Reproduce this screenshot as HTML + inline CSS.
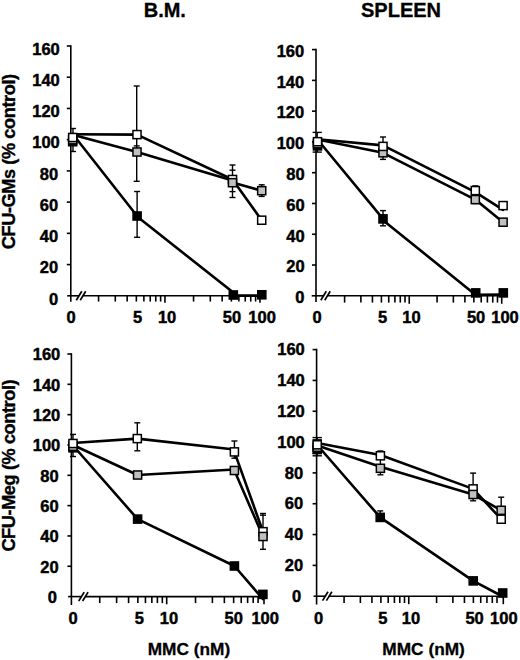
<!DOCTYPE html>
<html><head><meta charset="utf-8"><style>
html,body{margin:0;padding:0;background:#fff;}
body{width:520px;height:660px;overflow:hidden;}
svg{display:block;}
.t{font-family:"Liberation Sans", sans-serif;font-weight:bold;font-size:16.5px;fill:#000;stroke:#000;stroke-width:0.45px;}
.h{font-family:"Liberation Sans", sans-serif;font-weight:bold;font-size:20px;fill:#000;stroke:#000;stroke-width:0.3px;}
.a{font-family:"Liberation Sans", sans-serif;font-weight:bold;font-size:17.3px;fill:#000;stroke:#000;stroke-width:0.3px;}
.v{font-family:"Liberation Sans", sans-serif;font-weight:bold;font-size:18.2px;letter-spacing:-0.42px;fill:#000;stroke:#000;stroke-width:0.35px;}
</style></head><body>
<svg width="520" height="660" viewBox="0 0 520 660">
<rect width="520" height="660" fill="#fff"/>
<text x="164.8" y="16.5" text-anchor="middle" class="h">B.M.</text>
<text x="401" y="16.6" text-anchor="middle" class="h">SPLEEN</text>
<text transform="translate(14.6,161.8) rotate(-90)" text-anchor="middle" class="v">CFU-GMs (% control)</text>
<text transform="translate(14.6,465.7) rotate(-90)" text-anchor="middle" class="v">CFU-Meg (% control)</text>
<text x="189" y="654.6" text-anchor="middle" class="a">MMC (nM)</text>
<text x="423.6" y="654.8" text-anchor="middle" class="a">MMC (nM)</text>
<line x1="70.8" y1="45.2" x2="70.8" y2="301.7" stroke="#000" stroke-width="1.6"/>
<text x="58.3" y="304.5" text-anchor="end" class="t">0</text>
<line x1="66.8" y1="264.57" x2="70.8" y2="264.57" stroke="#000" stroke-width="1.6"/>
<text x="58.2" y="273.27" text-anchor="end" class="t">20</text>
<line x1="66.8" y1="233.35" x2="70.8" y2="233.35" stroke="#000" stroke-width="1.6"/>
<text x="58.2" y="242.05" text-anchor="end" class="t">40</text>
<line x1="66.8" y1="202.12" x2="70.8" y2="202.12" stroke="#000" stroke-width="1.6"/>
<text x="58.2" y="210.82" text-anchor="end" class="t">60</text>
<line x1="66.8" y1="170.9" x2="70.8" y2="170.9" stroke="#000" stroke-width="1.6"/>
<text x="58.2" y="179.6" text-anchor="end" class="t">80</text>
<line x1="66.8" y1="139.68" x2="70.8" y2="139.68" stroke="#000" stroke-width="1.6"/>
<text x="59.8" y="148.38" text-anchor="end" class="t">100</text>
<line x1="66.8" y1="108.45" x2="70.8" y2="108.45" stroke="#000" stroke-width="1.6"/>
<text x="59.8" y="117.15" text-anchor="end" class="t">120</text>
<line x1="66.8" y1="77.22" x2="70.8" y2="77.22" stroke="#000" stroke-width="1.6"/>
<text x="59.8" y="85.92" text-anchor="end" class="t">140</text>
<line x1="66.8" y1="46" x2="70.8" y2="46" stroke="#000" stroke-width="1.6"/>
<text x="59.8" y="54.7" text-anchor="end" class="t">160</text>
<line x1="67.2" y1="295.8" x2="79.02" y2="295.8" stroke="#000" stroke-width="1.6"/>
<line x1="82.92" y1="295.8" x2="260.66" y2="295.8" stroke="#000" stroke-width="1.6"/>
<line x1="98.56" y1="295.8" x2="98.56" y2="301.6" stroke="#000" stroke-width="1.6"/>
<line x1="115.29" y1="295.8" x2="115.29" y2="301.6" stroke="#000" stroke-width="1.6"/>
<line x1="127.16" y1="295.8" x2="127.16" y2="301.6" stroke="#000" stroke-width="1.6"/>
<line x1="136.36" y1="295.8" x2="136.36" y2="301.6" stroke="#000" stroke-width="1.6"/>
<line x1="143.88" y1="295.8" x2="143.88" y2="301.6" stroke="#000" stroke-width="1.6"/>
<line x1="150.24" y1="295.8" x2="150.24" y2="301.6" stroke="#000" stroke-width="1.6"/>
<line x1="155.75" y1="295.8" x2="155.75" y2="301.6" stroke="#000" stroke-width="1.6"/>
<line x1="160.61" y1="295.8" x2="160.61" y2="301.6" stroke="#000" stroke-width="1.6"/>
<line x1="164.96" y1="295.8" x2="164.96" y2="302.8" stroke="#000" stroke-width="1.6"/>
<line x1="193.56" y1="295.8" x2="193.56" y2="301.6" stroke="#000" stroke-width="1.6"/>
<line x1="210.29" y1="295.8" x2="210.29" y2="301.6" stroke="#000" stroke-width="1.6"/>
<line x1="222.16" y1="295.8" x2="222.16" y2="301.6" stroke="#000" stroke-width="1.6"/>
<line x1="231.36" y1="295.8" x2="231.36" y2="301.6" stroke="#000" stroke-width="1.6"/>
<line x1="238.88" y1="295.8" x2="238.88" y2="301.6" stroke="#000" stroke-width="1.6"/>
<line x1="245.24" y1="295.8" x2="245.24" y2="301.6" stroke="#000" stroke-width="1.6"/>
<line x1="250.75" y1="295.8" x2="250.75" y2="301.6" stroke="#000" stroke-width="1.6"/>
<line x1="255.61" y1="295.8" x2="255.61" y2="301.6" stroke="#000" stroke-width="1.6"/>
<line x1="259.96" y1="295.8" x2="259.96" y2="302.8" stroke="#000" stroke-width="1.6"/>
<line x1="76.3" y1="300.2" x2="81.8" y2="291.3" stroke="#000" stroke-width="1.7"/>
<line x1="80.2" y1="300.2" x2="85.7" y2="291.3" stroke="#000" stroke-width="1.7"/>
<text x="71.1" y="323" text-anchor="middle" class="t">0</text>
<text x="137.6" y="323" text-anchor="middle" class="t">5</text>
<text x="167.1" y="323" text-anchor="middle" class="t">10</text>
<text x="232" y="323" text-anchor="middle" class="t">50</text>
<text x="262.1" y="323" text-anchor="middle" class="t">100</text>
<line x1="73" y1="128.5" x2="73" y2="151.5" stroke="#000" stroke-width="1.4"/>
<line x1="70" y1="128.5" x2="76" y2="128.5" stroke="#000" stroke-width="1.4"/>
<line x1="70" y1="151.5" x2="76" y2="151.5" stroke="#000" stroke-width="1.4"/>
<line x1="136.7" y1="86" x2="136.7" y2="181.3" stroke="#000" stroke-width="1.4"/>
<line x1="133.7" y1="86" x2="139.7" y2="86" stroke="#000" stroke-width="1.4"/>
<line x1="133.7" y1="145.9" x2="139.7" y2="145.9" stroke="#000" stroke-width="1.4"/>
<line x1="133.7" y1="181.3" x2="139.7" y2="181.3" stroke="#000" stroke-width="1.4"/>
<line x1="137.1" y1="191.5" x2="137.1" y2="237.3" stroke="#000" stroke-width="1.4"/>
<line x1="134.1" y1="191.5" x2="140.1" y2="191.5" stroke="#000" stroke-width="1.4"/>
<line x1="134.1" y1="237.3" x2="140.1" y2="237.3" stroke="#000" stroke-width="1.4"/>
<line x1="232.5" y1="165" x2="232.5" y2="197.5" stroke="#000" stroke-width="1.4"/>
<line x1="229.5" y1="165" x2="235.5" y2="165" stroke="#000" stroke-width="1.4"/>
<line x1="229.5" y1="170.2" x2="235.5" y2="170.2" stroke="#000" stroke-width="1.4"/>
<line x1="229.5" y1="191.6" x2="235.5" y2="191.6" stroke="#000" stroke-width="1.4"/>
<line x1="229.5" y1="197.5" x2="235.5" y2="197.5" stroke="#000" stroke-width="1.4"/>
<line x1="261.7" y1="184.8" x2="261.7" y2="196.4" stroke="#000" stroke-width="1.4"/>
<line x1="258.7" y1="184.8" x2="264.7" y2="184.8" stroke="#000" stroke-width="1.4"/>
<line x1="258.7" y1="196.4" x2="264.7" y2="196.4" stroke="#000" stroke-width="1.4"/>
<path d="M72.7,134L137.1,216M137.1,216.6L233.3,292.5M233.3,295.6L261.8,295.6" fill="none" stroke="#000" stroke-width="2.6" stroke-linecap="round"/>
<path d="M72.7,134.8L137,152M137,152L232.5,180.5M232.5,182.6L261.7,190.7" fill="none" stroke="#000" stroke-width="2.6" stroke-linecap="round"/>
<path d="M72.7,134.3L137,134.6M137,134.6L232.5,179.5M232.5,179.5L261.7,220.2" fill="none" stroke="#000" stroke-width="2.6" stroke-linecap="round"/>
<rect x="68.65" y="137.65" width="8.1" height="8.1" fill="#000000" stroke="#000" stroke-width="1.5"/>
<rect x="68.65" y="135.75" width="8.1" height="8.1" fill="#c0c0c0" stroke="#000" stroke-width="1.5"/>
<rect x="68.65" y="133.45" width="8.1" height="8.1" fill="#ffffff" stroke="#000" stroke-width="1.5"/>
<rect x="133.05" y="211.95" width="8.1" height="8.1" fill="#000000" stroke="#000" stroke-width="1.5"/>
<rect x="132.95" y="147.95" width="8.1" height="8.1" fill="#c0c0c0" stroke="#000" stroke-width="1.5"/>
<rect x="132.95" y="130.55" width="8.1" height="8.1" fill="#ffffff" stroke="#000" stroke-width="1.5"/>
<rect x="228.45" y="175.45" width="8.1" height="8.1" fill="#ffffff" stroke="#000" stroke-width="1.5"/>
<rect x="228.45" y="178.65" width="8.1" height="8.1" fill="#c0c0c0" stroke="#000" stroke-width="1.5"/>
<rect x="229.25" y="290.95" width="8.1" height="8.1" fill="#000000" stroke="#000" stroke-width="1.5"/>
<rect x="257.65" y="216.15" width="8.1" height="8.1" fill="#ffffff" stroke="#000" stroke-width="1.5"/>
<rect x="257.65" y="186.65" width="8.1" height="8.1" fill="#c0c0c0" stroke="#000" stroke-width="1.5"/>
<rect x="257.75" y="290.75" width="8.1" height="8.1" fill="#000000" stroke="#000" stroke-width="1.5"/>
<line x1="316" y1="48.8" x2="316" y2="302.1" stroke="#000" stroke-width="1.6"/>
<text x="304.5" y="303.1" text-anchor="end" class="t">0</text>
<line x1="312" y1="265.03" x2="316" y2="265.03" stroke="#000" stroke-width="1.6"/>
<text x="304.7" y="272.33" text-anchor="end" class="t">20</text>
<line x1="312" y1="234.25" x2="316" y2="234.25" stroke="#000" stroke-width="1.6"/>
<text x="304.7" y="241.55" text-anchor="end" class="t">40</text>
<line x1="312" y1="203.48" x2="316" y2="203.48" stroke="#000" stroke-width="1.6"/>
<text x="304.7" y="210.78" text-anchor="end" class="t">60</text>
<line x1="312" y1="172.7" x2="316" y2="172.7" stroke="#000" stroke-width="1.6"/>
<text x="304.7" y="180" text-anchor="end" class="t">80</text>
<line x1="312" y1="141.93" x2="316" y2="141.93" stroke="#000" stroke-width="1.6"/>
<text x="304.2" y="149.23" text-anchor="end" class="t">100</text>
<line x1="312" y1="111.15" x2="316" y2="111.15" stroke="#000" stroke-width="1.6"/>
<text x="304.2" y="118.45" text-anchor="end" class="t">120</text>
<line x1="312" y1="80.38" x2="316" y2="80.38" stroke="#000" stroke-width="1.6"/>
<text x="304.2" y="87.67" text-anchor="end" class="t">140</text>
<line x1="312" y1="49.6" x2="316" y2="49.6" stroke="#000" stroke-width="1.6"/>
<text x="304.2" y="56.9" text-anchor="end" class="t">160</text>
<line x1="311.7" y1="295.8" x2="323.52" y2="295.8" stroke="#000" stroke-width="1.6"/>
<line x1="327.42" y1="295.8" x2="502.41" y2="295.8" stroke="#000" stroke-width="1.6"/>
<line x1="344.61" y1="295.8" x2="344.61" y2="302.6" stroke="#000" stroke-width="1.6"/>
<line x1="360.89" y1="295.8" x2="360.89" y2="302.6" stroke="#000" stroke-width="1.6"/>
<line x1="372.44" y1="295.8" x2="372.44" y2="302.6" stroke="#000" stroke-width="1.6"/>
<line x1="381.4" y1="295.8" x2="381.4" y2="302.6" stroke="#000" stroke-width="1.6"/>
<line x1="388.73" y1="295.8" x2="388.73" y2="302.6" stroke="#000" stroke-width="1.6"/>
<line x1="394.92" y1="295.8" x2="394.92" y2="302.6" stroke="#000" stroke-width="1.6"/>
<line x1="400.28" y1="295.8" x2="400.28" y2="302.6" stroke="#000" stroke-width="1.6"/>
<line x1="405.01" y1="295.8" x2="405.01" y2="302.6" stroke="#000" stroke-width="1.6"/>
<line x1="409.24" y1="295.8" x2="409.24" y2="303.8" stroke="#000" stroke-width="1.6"/>
<line x1="437.08" y1="295.8" x2="437.08" y2="302.6" stroke="#000" stroke-width="1.6"/>
<line x1="453.36" y1="295.8" x2="453.36" y2="302.6" stroke="#000" stroke-width="1.6"/>
<line x1="464.91" y1="295.8" x2="464.91" y2="302.6" stroke="#000" stroke-width="1.6"/>
<line x1="473.87" y1="295.8" x2="473.87" y2="302.6" stroke="#000" stroke-width="1.6"/>
<line x1="481.2" y1="295.8" x2="481.2" y2="302.6" stroke="#000" stroke-width="1.6"/>
<line x1="487.39" y1="295.8" x2="487.39" y2="302.6" stroke="#000" stroke-width="1.6"/>
<line x1="492.75" y1="295.8" x2="492.75" y2="302.6" stroke="#000" stroke-width="1.6"/>
<line x1="497.48" y1="295.8" x2="497.48" y2="302.6" stroke="#000" stroke-width="1.6"/>
<line x1="501.71" y1="295.8" x2="501.71" y2="303.8" stroke="#000" stroke-width="1.6"/>
<line x1="320.8" y1="300.2" x2="326.3" y2="291.3" stroke="#000" stroke-width="1.7"/>
<line x1="324.7" y1="300.2" x2="330.2" y2="291.3" stroke="#000" stroke-width="1.7"/>
<text x="317" y="323" text-anchor="middle" class="t">0</text>
<text x="382.6" y="323" text-anchor="middle" class="t">5</text>
<text x="411.5" y="323" text-anchor="middle" class="t">10</text>
<text x="476.1" y="323" text-anchor="middle" class="t">50</text>
<text x="505" y="323" text-anchor="middle" class="t">100</text>
<line x1="317.2" y1="132.4" x2="317.2" y2="152.1" stroke="#000" stroke-width="1.4"/>
<line x1="312.6" y1="132.4" x2="321.8" y2="132.4" stroke="#000" stroke-width="1.4"/>
<line x1="312.6" y1="152.1" x2="321.8" y2="152.1" stroke="#000" stroke-width="1.4"/>
<line x1="383" y1="137" x2="383" y2="159.4" stroke="#000" stroke-width="1.4"/>
<line x1="380" y1="137" x2="386" y2="137" stroke="#000" stroke-width="1.4"/>
<line x1="380" y1="159.4" x2="386" y2="159.4" stroke="#000" stroke-width="1.4"/>
<line x1="383" y1="210.6" x2="383" y2="225.8" stroke="#000" stroke-width="1.4"/>
<line x1="380" y1="210.6" x2="386" y2="210.6" stroke="#000" stroke-width="1.4"/>
<line x1="380" y1="225.8" x2="386" y2="225.8" stroke="#000" stroke-width="1.4"/>
<line x1="475.3" y1="185.9" x2="475.3" y2="203.5" stroke="#000" stroke-width="1.4"/>
<line x1="472.3" y1="185.9" x2="478.3" y2="185.9" stroke="#000" stroke-width="1.4"/>
<line x1="472.3" y1="203.5" x2="478.3" y2="203.5" stroke="#000" stroke-width="1.4"/>
<path d="M317.5,139.5L383,218.9M383,220.2L475.7,294.9M475.7,294.9L503.3,294.6" fill="none" stroke="#000" stroke-width="2.6" stroke-linecap="round"/>
<path d="M317.5,139.5L383,152.8M383,152.8L475.3,199.6M475.3,199.6L503.1,222.2" fill="none" stroke="#000" stroke-width="2.6" stroke-linecap="round"/>
<path d="M317.5,139.3L383,145.4M383,145.4L475.3,192.2M475.3,192.2L503.1,209.8" fill="none" stroke="#000" stroke-width="2.6" stroke-linecap="round"/>
<rect x="313.45" y="141.85" width="8.1" height="8.1" fill="#000000" stroke="#000" stroke-width="1.5"/>
<rect x="313.45" y="139.75" width="8.1" height="8.1" fill="#c0c0c0" stroke="#000" stroke-width="1.5"/>
<rect x="313.45" y="137.65" width="8.1" height="8.1" fill="#ffffff" stroke="#000" stroke-width="1.5"/>
<rect x="378.95" y="214.85" width="8.1" height="8.1" fill="#000000" stroke="#000" stroke-width="1.5"/>
<rect x="378.95" y="148.75" width="8.1" height="8.1" fill="#c0c0c0" stroke="#000" stroke-width="1.5"/>
<rect x="378.95" y="142.35" width="8.1" height="8.1" fill="#ffffff" stroke="#000" stroke-width="1.5"/>
<rect x="471.25" y="186.55" width="8.1" height="8.1" fill="#ffffff" stroke="#000" stroke-width="1.5"/>
<rect x="471.25" y="195.55" width="8.1" height="8.1" fill="#c0c0c0" stroke="#000" stroke-width="1.5"/>
<rect x="471.65" y="288.85" width="8.1" height="8.1" fill="#000000" stroke="#000" stroke-width="1.5"/>
<rect x="499.05" y="201.55" width="8.1" height="8.1" fill="#ffffff" stroke="#000" stroke-width="1.5"/>
<rect x="499.05" y="218.15" width="8.1" height="8.1" fill="#c0c0c0" stroke="#000" stroke-width="1.5"/>
<rect x="499.25" y="288.85" width="8.1" height="8.1" fill="#000000" stroke="#000" stroke-width="1.5"/>
<line x1="71.4" y1="353.2" x2="71.4" y2="605" stroke="#000" stroke-width="1.6"/>
<text x="57" y="602.9" text-anchor="end" class="t">0</text>
<line x1="67.4" y1="566.27" x2="71.4" y2="566.27" stroke="#000" stroke-width="1.6"/>
<text x="58.6" y="572.57" text-anchor="end" class="t">20</text>
<line x1="67.4" y1="535.95" x2="71.4" y2="535.95" stroke="#000" stroke-width="1.6"/>
<text x="58.6" y="542.25" text-anchor="end" class="t">40</text>
<line x1="67.4" y1="505.62" x2="71.4" y2="505.62" stroke="#000" stroke-width="1.6"/>
<text x="58.6" y="511.93" text-anchor="end" class="t">60</text>
<line x1="67.4" y1="475.3" x2="71.4" y2="475.3" stroke="#000" stroke-width="1.6"/>
<text x="58.6" y="481.6" text-anchor="end" class="t">80</text>
<line x1="67.4" y1="444.98" x2="71.4" y2="444.98" stroke="#000" stroke-width="1.6"/>
<text x="60.3" y="451.28" text-anchor="end" class="t">100</text>
<line x1="67.4" y1="414.65" x2="71.4" y2="414.65" stroke="#000" stroke-width="1.6"/>
<text x="60.3" y="420.95" text-anchor="end" class="t">120</text>
<line x1="67.4" y1="384.32" x2="71.4" y2="384.32" stroke="#000" stroke-width="1.6"/>
<text x="60.3" y="390.62" text-anchor="end" class="t">140</text>
<line x1="67.4" y1="354" x2="71.4" y2="354" stroke="#000" stroke-width="1.6"/>
<text x="60.3" y="360.3" text-anchor="end" class="t">160</text>
<line x1="68.1" y1="596.6" x2="81.42" y2="596.6" stroke="#000" stroke-width="1.6"/>
<line x1="85.32" y1="596.6" x2="264.7" y2="596.6" stroke="#000" stroke-width="1.6"/>
<line x1="99.74" y1="596.6" x2="99.74" y2="603.1" stroke="#000" stroke-width="1.6"/>
<line x1="116.61" y1="596.6" x2="116.61" y2="603.1" stroke="#000" stroke-width="1.6"/>
<line x1="128.58" y1="596.6" x2="128.58" y2="603.1" stroke="#000" stroke-width="1.6"/>
<line x1="137.86" y1="596.6" x2="137.86" y2="603.1" stroke="#000" stroke-width="1.6"/>
<line x1="145.44" y1="596.6" x2="145.44" y2="603.1" stroke="#000" stroke-width="1.6"/>
<line x1="151.85" y1="596.6" x2="151.85" y2="603.1" stroke="#000" stroke-width="1.6"/>
<line x1="157.41" y1="596.6" x2="157.41" y2="603.1" stroke="#000" stroke-width="1.6"/>
<line x1="162.31" y1="596.6" x2="162.31" y2="603.1" stroke="#000" stroke-width="1.6"/>
<line x1="166.69" y1="596.6" x2="166.69" y2="604.3" stroke="#000" stroke-width="1.6"/>
<line x1="195.52" y1="596.6" x2="195.52" y2="603.1" stroke="#000" stroke-width="1.6"/>
<line x1="212.39" y1="596.6" x2="212.39" y2="603.1" stroke="#000" stroke-width="1.6"/>
<line x1="224.36" y1="596.6" x2="224.36" y2="603.1" stroke="#000" stroke-width="1.6"/>
<line x1="233.64" y1="596.6" x2="233.64" y2="603.1" stroke="#000" stroke-width="1.6"/>
<line x1="241.22" y1="596.6" x2="241.22" y2="603.1" stroke="#000" stroke-width="1.6"/>
<line x1="247.63" y1="596.6" x2="247.63" y2="603.1" stroke="#000" stroke-width="1.6"/>
<line x1="253.19" y1="596.6" x2="253.19" y2="603.1" stroke="#000" stroke-width="1.6"/>
<line x1="258.09" y1="596.6" x2="258.09" y2="603.1" stroke="#000" stroke-width="1.6"/>
<line x1="264" y1="596.6" x2="264" y2="604.3" stroke="#000" stroke-width="1.6"/>
<line x1="78.7" y1="601" x2="84.2" y2="592.1" stroke="#000" stroke-width="1.7"/>
<line x1="82.6" y1="601" x2="88.1" y2="592.1" stroke="#000" stroke-width="1.7"/>
<text x="73.2" y="623.7" text-anchor="middle" class="t">0</text>
<text x="139.3" y="623.7" text-anchor="middle" class="t">5</text>
<text x="169" y="623.7" text-anchor="middle" class="t">10</text>
<text x="233.8" y="623.7" text-anchor="middle" class="t">50</text>
<text x="265.2" y="623.7" text-anchor="middle" class="t">100</text>
<line x1="73" y1="434.4" x2="73" y2="456.5" stroke="#000" stroke-width="1.4"/>
<line x1="70" y1="434.4" x2="76" y2="434.4" stroke="#000" stroke-width="1.4"/>
<line x1="70" y1="456.5" x2="76" y2="456.5" stroke="#000" stroke-width="1.4"/>
<line x1="137.3" y1="422.8" x2="137.3" y2="450.8" stroke="#000" stroke-width="1.4"/>
<line x1="134.3" y1="422.8" x2="140.3" y2="422.8" stroke="#000" stroke-width="1.4"/>
<line x1="134.3" y1="450.8" x2="140.3" y2="450.8" stroke="#000" stroke-width="1.4"/>
<line x1="234.4" y1="441" x2="234.4" y2="458.2" stroke="#000" stroke-width="1.4"/>
<line x1="231.4" y1="441" x2="237.4" y2="441" stroke="#000" stroke-width="1.4"/>
<line x1="231.4" y1="458.2" x2="237.4" y2="458.2" stroke="#000" stroke-width="1.4"/>
<line x1="263" y1="513.5" x2="263" y2="549.3" stroke="#000" stroke-width="1.4"/>
<line x1="260" y1="513.5" x2="266" y2="513.5" stroke="#000" stroke-width="1.4"/>
<line x1="260" y1="515.2" x2="266" y2="515.2" stroke="#000" stroke-width="1.4"/>
<line x1="260" y1="549.3" x2="266" y2="549.3" stroke="#000" stroke-width="1.4"/>
<path d="M73,445.5L137.6,519.1M137.6,519.1L234.4,566M234.4,566L262.9,599" fill="none" stroke="#000" stroke-width="2.6" stroke-linecap="round"/>
<path d="M73,445L137.6,475M137.6,475L234.4,469.5M234.4,470.5L263,536.5" fill="none" stroke="#000" stroke-width="2.6" stroke-linecap="round"/>
<path d="M73,443L137.3,438.6M137.3,438.6L234.4,449.5M234.4,451.9L263,531.7" fill="none" stroke="#000" stroke-width="2.6" stroke-linecap="round"/>
<rect x="68.95" y="443.75" width="8.1" height="8.1" fill="#000000" stroke="#000" stroke-width="1.5"/>
<rect x="68.95" y="442.25" width="8.1" height="8.1" fill="#c0c0c0" stroke="#000" stroke-width="1.5"/>
<rect x="68.95" y="439.45" width="8.1" height="8.1" fill="#ffffff" stroke="#000" stroke-width="1.5"/>
<rect x="133.55" y="515.05" width="8.1" height="8.1" fill="#000000" stroke="#000" stroke-width="1.5"/>
<rect x="133.55" y="470.95" width="8.1" height="8.1" fill="#c0c0c0" stroke="#000" stroke-width="1.5"/>
<rect x="133.25" y="434.55" width="8.1" height="8.1" fill="#ffffff" stroke="#000" stroke-width="1.5"/>
<rect x="230.35" y="447.85" width="8.1" height="8.1" fill="#ffffff" stroke="#000" stroke-width="1.5"/>
<rect x="230.35" y="466.45" width="8.1" height="8.1" fill="#c0c0c0" stroke="#000" stroke-width="1.5"/>
<rect x="230.35" y="561.95" width="8.1" height="8.1" fill="#000000" stroke="#000" stroke-width="1.5"/>
<rect x="258.95" y="527.65" width="8.1" height="8.1" fill="#ffffff" stroke="#000" stroke-width="1.5"/>
<rect x="258.95" y="532.45" width="8.1" height="8.1" fill="#c0c0c0" stroke="#000" stroke-width="1.5"/>
<rect x="258.85" y="590.35" width="8.1" height="8.1" fill="#000000" stroke="#000" stroke-width="1.5"/>
<line x1="316.6" y1="348.8" x2="316.6" y2="604.6" stroke="#000" stroke-width="1.6"/>
<text x="301.3" y="601.9" text-anchor="end" class="t">0</text>
<line x1="312.6" y1="565.38" x2="316.6" y2="565.38" stroke="#000" stroke-width="1.6"/>
<text x="303.2" y="571.08" text-anchor="end" class="t">20</text>
<line x1="312.6" y1="534.55" x2="316.6" y2="534.55" stroke="#000" stroke-width="1.6"/>
<text x="303.2" y="540.25" text-anchor="end" class="t">40</text>
<line x1="312.6" y1="503.73" x2="316.6" y2="503.73" stroke="#000" stroke-width="1.6"/>
<text x="303.2" y="509.43" text-anchor="end" class="t">60</text>
<line x1="312.6" y1="472.9" x2="316.6" y2="472.9" stroke="#000" stroke-width="1.6"/>
<text x="303.2" y="478.6" text-anchor="end" class="t">80</text>
<line x1="312.6" y1="442.08" x2="316.6" y2="442.08" stroke="#000" stroke-width="1.6"/>
<text x="304.8" y="447.78" text-anchor="end" class="t">100</text>
<line x1="312.6" y1="411.25" x2="316.6" y2="411.25" stroke="#000" stroke-width="1.6"/>
<text x="304.8" y="416.95" text-anchor="end" class="t">120</text>
<line x1="312.6" y1="380.43" x2="316.6" y2="380.43" stroke="#000" stroke-width="1.6"/>
<text x="304.8" y="386.12" text-anchor="end" class="t">140</text>
<line x1="312.6" y1="349.6" x2="316.6" y2="349.6" stroke="#000" stroke-width="1.6"/>
<text x="304.8" y="355.3" text-anchor="end" class="t">160</text>
<line x1="313.6" y1="596.2" x2="325.22" y2="596.2" stroke="#000" stroke-width="1.6"/>
<line x1="329.12" y1="596.2" x2="504" y2="596.2" stroke="#000" stroke-width="1.6"/>
<line x1="344.09" y1="596.2" x2="344.09" y2="603" stroke="#000" stroke-width="1.6"/>
<line x1="360.37" y1="596.2" x2="360.37" y2="603" stroke="#000" stroke-width="1.6"/>
<line x1="371.93" y1="596.2" x2="371.93" y2="603" stroke="#000" stroke-width="1.6"/>
<line x1="380.89" y1="596.2" x2="380.89" y2="603" stroke="#000" stroke-width="1.6"/>
<line x1="388.22" y1="596.2" x2="388.22" y2="603" stroke="#000" stroke-width="1.6"/>
<line x1="394.41" y1="596.2" x2="394.41" y2="603" stroke="#000" stroke-width="1.6"/>
<line x1="399.78" y1="596.2" x2="399.78" y2="603" stroke="#000" stroke-width="1.6"/>
<line x1="404.51" y1="596.2" x2="404.51" y2="603" stroke="#000" stroke-width="1.6"/>
<line x1="408.74" y1="596.2" x2="408.74" y2="604.2" stroke="#000" stroke-width="1.6"/>
<line x1="436.59" y1="596.2" x2="436.59" y2="603" stroke="#000" stroke-width="1.6"/>
<line x1="452.87" y1="596.2" x2="452.87" y2="603" stroke="#000" stroke-width="1.6"/>
<line x1="464.43" y1="596.2" x2="464.43" y2="603" stroke="#000" stroke-width="1.6"/>
<line x1="473.39" y1="596.2" x2="473.39" y2="603" stroke="#000" stroke-width="1.6"/>
<line x1="480.72" y1="596.2" x2="480.72" y2="603" stroke="#000" stroke-width="1.6"/>
<line x1="486.91" y1="596.2" x2="486.91" y2="603" stroke="#000" stroke-width="1.6"/>
<line x1="492.28" y1="596.2" x2="492.28" y2="603" stroke="#000" stroke-width="1.6"/>
<line x1="497.01" y1="596.2" x2="497.01" y2="603" stroke="#000" stroke-width="1.6"/>
<line x1="503.3" y1="596.2" x2="503.3" y2="604.2" stroke="#000" stroke-width="1.6"/>
<line x1="322.5" y1="600.6" x2="328" y2="591.7" stroke="#000" stroke-width="1.7"/>
<line x1="326.4" y1="600.6" x2="331.9" y2="591.7" stroke="#000" stroke-width="1.7"/>
<text x="318.5" y="624.3" text-anchor="middle" class="t">0</text>
<text x="382.9" y="624.3" text-anchor="middle" class="t">5</text>
<text x="411" y="624.3" text-anchor="middle" class="t">10</text>
<text x="474.6" y="624.3" text-anchor="middle" class="t">50</text>
<text x="503.8" y="624.3" text-anchor="middle" class="t">100</text>
<line x1="317.2" y1="437.6" x2="317.2" y2="455.8" stroke="#000" stroke-width="1.4"/>
<line x1="312.5" y1="437.6" x2="321.9" y2="437.6" stroke="#000" stroke-width="1.4"/>
<line x1="312.5" y1="439.8" x2="321.9" y2="439.8" stroke="#000" stroke-width="1.4"/>
<line x1="312.5" y1="453.6" x2="321.9" y2="453.6" stroke="#000" stroke-width="1.4"/>
<line x1="312.5" y1="455.8" x2="321.9" y2="455.8" stroke="#000" stroke-width="1.4"/>
<line x1="380.4" y1="451" x2="380.4" y2="474.8" stroke="#000" stroke-width="1.4"/>
<line x1="377.4" y1="451" x2="383.4" y2="451" stroke="#000" stroke-width="1.4"/>
<line x1="377.4" y1="474.8" x2="383.4" y2="474.8" stroke="#000" stroke-width="1.4"/>
<line x1="380.2" y1="510.9" x2="380.2" y2="520" stroke="#000" stroke-width="1.4"/>
<line x1="377.2" y1="510.9" x2="383.2" y2="510.9" stroke="#000" stroke-width="1.4"/>
<line x1="377.2" y1="520" x2="383.2" y2="520" stroke="#000" stroke-width="1.4"/>
<line x1="473.1" y1="473.1" x2="473.1" y2="500.8" stroke="#000" stroke-width="1.4"/>
<line x1="470.1" y1="473.1" x2="476.1" y2="473.1" stroke="#000" stroke-width="1.4"/>
<line x1="470.1" y1="500.8" x2="476.1" y2="500.8" stroke="#000" stroke-width="1.4"/>
<line x1="501.2" y1="497.2" x2="501.2" y2="510" stroke="#000" stroke-width="1.4"/>
<line x1="498.2" y1="497.2" x2="504.2" y2="497.2" stroke="#000" stroke-width="1.4"/>
<line x1="498.2" y1="510" x2="504.2" y2="510" stroke="#000" stroke-width="1.4"/>
<path d="M317.2,445L380.2,517.4M380.2,517.4L473.2,580.9M473.2,580.9L502.7,596.5" fill="none" stroke="#000" stroke-width="2.6" stroke-linecap="round"/>
<path d="M317.2,445.5L380.4,466.8M380.4,466.8L473.1,494.5M473.1,494.5L501.2,510.3" fill="none" stroke="#000" stroke-width="2.6" stroke-linecap="round"/>
<path d="M317.2,443L380.4,455M380.4,455L473.1,488.9M473.1,488.9L501.2,519.2" fill="none" stroke="#000" stroke-width="2.6" stroke-linecap="round"/>
<rect x="313.15" y="445.25" width="8.1" height="8.1" fill="#000000" stroke="#000" stroke-width="1.5"/>
<rect x="313.15" y="443.25" width="8.1" height="8.1" fill="#c0c0c0" stroke="#000" stroke-width="1.5"/>
<rect x="313.15" y="440.75" width="8.1" height="8.1" fill="#ffffff" stroke="#000" stroke-width="1.5"/>
<rect x="376.15" y="513.35" width="8.1" height="8.1" fill="#000000" stroke="#000" stroke-width="1.5"/>
<rect x="376.35" y="464.25" width="8.1" height="8.1" fill="#c0c0c0" stroke="#000" stroke-width="1.5"/>
<rect x="376.35" y="451.75" width="8.1" height="8.1" fill="#ffffff" stroke="#000" stroke-width="1.5"/>
<rect x="469.15" y="576.85" width="8.1" height="8.1" fill="#000000" stroke="#000" stroke-width="1.5"/>
<rect x="469.05" y="484.85" width="8.1" height="8.1" fill="#ffffff" stroke="#000" stroke-width="1.5"/>
<rect x="469.05" y="490.45" width="8.1" height="8.1" fill="#c0c0c0" stroke="#000" stroke-width="1.5"/>
<rect x="498.65" y="588.95" width="8.1" height="8.1" fill="#000000" stroke="#000" stroke-width="1.5"/>
<rect x="497.15" y="515.15" width="8.1" height="8.1" fill="#ffffff" stroke="#000" stroke-width="1.5"/>
<rect x="497.15" y="506.25" width="8.1" height="8.1" fill="#c0c0c0" stroke="#000" stroke-width="1.5"/>
</svg>
</body></html>
